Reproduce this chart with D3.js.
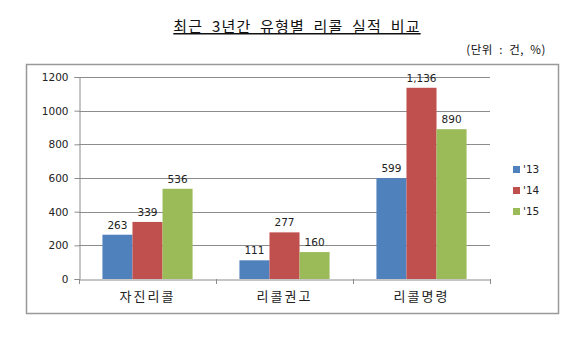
<!DOCTYPE html>
<html>
<head>
<meta charset="utf-8">
<script src="https://cdn.jsdelivr.net/npm/d3@7"></script>
<style>
  html, body { margin: 0; padding: 0; background: #fff; }
  svg { display: block; }
</style>
</head>
<body>
<svg id="chart" width="579" height="342"></svg>
<script>
// Recall counts by type, three years
const categories = ["자진리콜", "리콜권고", "리콜명령"];
const years = ["'13", "'14", "'15"];
const values13 = [263, 111, 599];
const values14 = [339, 277, 1136];
const values15 = [536, 160, 890];
const yTicks = [0, 200, 400, 600, 800, 1000, 1200];
const colors = ["#4F81BD", "#C0504D", "#9BBB59"];

const series = [values13, values14, values15];

const svg = d3.select("#chart");
const font = "'Noto Sans CJK KR', 'Noto Sans', sans-serif";
const numFont = "'DejaVu Sans', Verdana, sans-serif";

// Title with underline
svg.append("text")
  .attr("x", 297).attr("y", 32)
  .attr("text-anchor", "middle")
  .attr("font-family", font)
  .attr("font-size", 15)
  .attr("letter-spacing", "1.2px")
  .attr("word-spacing", "4px")
  .attr("fill", "#111")
  .attr("text-decoration", "underline")
  .text("최근 3년간 유형별 리콜 실적 비교");

svg.append("text")
  .attr("x", 546).attr("y", 54)
  .attr("text-anchor", "end")
  .attr("font-family", font)
  .attr("font-size", 11.5)
  .attr("letter-spacing", "0.6px")
  .attr("word-spacing", "3px")
  .attr("fill", "#111")
  .text("(단위 : 건, %)");

// Chart frame
svg.append("rect")
  .attr("x", 26.5).attr("y", 64.5)
  .attr("width", 532).attr("height", 249)
  .attr("fill", "#fff")
  .attr("stroke", "#999").attr("stroke-width", 1.5);

const plot = { left: 79, right: 490, top: 77, bottom: 279 };

const x0 = d3.scaleBand().domain(categories)
  .range([plot.left, plot.right]).paddingInner(0).paddingOuter(0);
const x1 = d3.scaleBand().domain(d3.range(years.length))
  .range([0, x0.bandwidth()]).paddingOuter(0.78).paddingInner(0);
const y = d3.scaleLinear().domain([0, 1200]).range([plot.bottom, plot.top]);

// Gridlines
svg.append("g").selectAll("line").data(yTicks.filter(d => d > 0)).join("line")
  .attr("x1", plot.left).attr("x2", plot.right)
  .attr("y1", d => Math.round(y(d)) + 0.5).attr("y2", d => Math.round(y(d)) + 0.5)
  .attr("stroke", "#8c8c8c").attr("stroke-width", 1);

// Y axis
const yAxis = svg.append("g")
  .attr("transform", `translate(${plot.left + 0.5},0)`)
  .call(d3.axisLeft(y).tickValues(yTicks).tickSize(5).tickPadding(6).tickFormat(d3.format("d")));
yAxis.select(".domain").attr("stroke", "#8c8c8c");
yAxis.selectAll(".tick line").attr("stroke", "#8c8c8c");
yAxis.selectAll(".tick text")
  .attr("font-family", numFont).attr("font-size", 10.5).attr("fill", "#222");

// Bars
const groups = svg.append("g").selectAll("g").data(categories).join("g")
  .attr("transform", d => `translate(${x0(d)},0)`);
groups.selectAll("rect")
  .data((c, i) => series.map((s, k) => ({ k, v: s[i] })))
  .join("rect")
  .attr("x", d => x1(d.k))
  .attr("width", x1.bandwidth())
  .attr("y", d => y(d.v))
  .attr("height", d => y(0) - y(d.v))
  .attr("fill", d => colors[d.k]);

// Value labels
groups.selectAll("text")
  .data((c, i) => series.map((s, k) => ({ k, v: s[i] })))
  .join("text")
  .attr("x", d => x1(d.k) + x1.bandwidth() / 2)
  .attr("y", d => y(d.v) - 6)
  .attr("text-anchor", "middle")
  .attr("font-family", numFont).attr("font-size", 10.5).attr("fill", "#222")
  .text(d => d3.format(",")(d.v));

// X axis
const xAxis = svg.append("g")
  .attr("transform", `translate(0,${plot.bottom + 0.5})`)
  .call(d3.axisBottom(x0).tickSize(0).tickPadding(12));
xAxis.select(".domain").attr("stroke", "#8c8c8c");
xAxis.selectAll(".tick text")
  .attr("font-family", font).attr("font-size", 13).attr("fill", "#222")
  .attr("letter-spacing", "2px");
// Category divider ticks
svg.append("g").selectAll("line")
  .data(categories.map(c => x0(c)).concat([plot.right]))
  .join("line")
  .attr("x1", d => Math.round(d) + 0.5).attr("x2", d => Math.round(d) + 0.5)
  .attr("y1", plot.bottom).attr("y2", plot.bottom + 5)
  .attr("stroke", "#8c8c8c");

// Legend
const legend = svg.append("g").selectAll("g").data(years).join("g")
  .attr("transform", (d, i) => `translate(513,${169 + i * 21})`);
legend.append("rect")
  .attr("x", 0).attr("y", -3).attr("width", 7).attr("height", 7)
  .attr("fill", (d, i) => colors[i]);
legend.append("text")
  .attr("x", 10).attr("y", 4)
  .attr("font-family", numFont).attr("font-size", 10.5).attr("fill", "#222")
  .text(d => d);
</script>
</body>
</html>
